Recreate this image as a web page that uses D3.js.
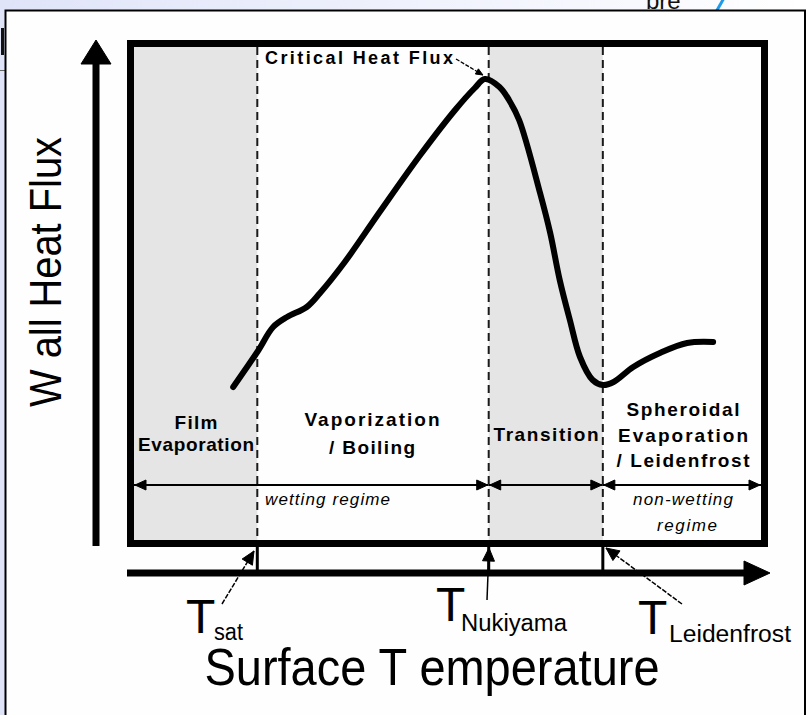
<!DOCTYPE html>
<html>
<head>
<meta charset="utf-8">
<script src="https://cdn.jsdelivr.net/npm/d3@7"></script>
<style>
  html, body { margin: 0; padding: 0; background: #ffffff; }
  svg { display: block; }
  text { font-family: "Liberation Sans", Arial, Helvetica, sans-serif; }
</style>
</head>
<body>
<script>
// Boiling curve: wall heat flux vs. surface temperature (arbitrary units 0..10)
const curveT    = [1.62, 2.01, 2.25, 2.47, 2.78, 2.99, 3.38, 3.93, 4.57, 5.12, 5.43, 5.59, 5.82, 5.97, 6.13, 6.46, 6.62, 6.77, 6.93, 7.09, 7.29, 7.45, 7.62, 7.93, 8.35, 8.78, 9.19];
const curveFlux = [3.13, 3.85, 4.33, 4.53, 4.73, 5.01, 5.63, 6.63, 7.77, 8.67, 9.11, 9.29, 9.13, 8.87, 8.47, 7.01, 6.21, 5.27, 4.47, 3.73, 3.27, 3.17, 3.23, 3.53, 3.81, 4.01, 4.03];

// Characteristic temperatures that split the regimes
const tempNames  = ["sat", "Nukiyama", "Leidenfrost"];
const tempValues = [2.0, 5.65, 7.45];

// Regime labels (one entry per line)
const regimeLines = [
  ["Film", "Evaporation"],
  ["Vaporization", "/ Boiling"],
  ["Transition"],
  ["Spheroidal", "Evaporation", "/ Leidenfrost"]
];
const shadedRegimes = [0, 2];
const wettingLabels = [["wetting regime"], ["non-wetting", "regime"]];

const W = 809, H = 715;
const svg = d3.select("body").append("svg").attr("width", W).attr("height", H);

// slide backdrop
const defs = svg.append("defs");
const grad = defs.append("linearGradient").attr("id", "slideBg").attr("x1", 0).attr("x2", 1).attr("y1", 0).attr("y2", 0);
grad.append("stop").attr("offset", 0).attr("stop-color", "#dfe4f8");
grad.append("stop").attr("offset", 0.75).attr("stop-color", "#f7f8fe");
grad.append("stop").attr("offset", 1).attr("stop-color", "#ffffff");
svg.append("rect").attr("width", W).attr("height", H).attr("fill", "url(#slideBg)");
svg.append("text").attr("x", 646).attr("y", 9).attr("font-size", 24).attr("fill", "#111").text("bre");
svg.append("line").attr("x1", 716).attr("y1", 12).attr("x2", 724).attr("y2", -2)
  .attr("stroke", "#1f9bea").attr("stroke-width", 3);
svg.append("rect").attr("x", 1).attr("y", 28).attr("width", 3).attr("height", 27).attr("fill", "#111");
svg.append("line").attr("x1", 0).attr("x2", 5).attr("y1", 70.5).attr("y2", 70.5).attr("stroke", "#666").attr("stroke-width", 1);

// white panel
svg.append("rect").attr("x", 5.5).attr("y", 10.5).attr("width", 799.5).attr("height", 720)
  .attr("fill", "#fefefe").attr("stroke", "#000").attr("stroke-width", 2);

// scales
const x = d3.scaleLinear().domain([0, 10]).range([130.5, 764.5]);
const y = d3.scaleLinear().domain([0, 10]).range([543.5, 43.5]);
const frameW = 7;
const inL = x(0) + frameW / 2, inR = x(10) - frameW / 2;
const inT = y(10) + frameW / 2, inB = y(0) - frameW / 2;

// shaded regimes
const edges = [0, ...tempValues, 10];
shadedRegimes.forEach(i => {
  svg.append("rect")
    .attr("x", x(edges[i])).attr("y", inT)
    .attr("width", x(edges[i + 1]) - x(edges[i])).attr("height", inB - inT)
    .attr("fill", "#e5e5e5");
});

// dashed boundaries
svg.selectAll(".bound").data(tempValues).enter().append("line")
  .attr("x1", d => x(d)).attr("x2", d => x(d))
  .attr("y1", inT).attr("y2", inB)
  .attr("stroke", "#1a1a1a").attr("stroke-width", 2).attr("stroke-dasharray", "8,5");

// frame
svg.append("rect")
  .attr("x", x(0)).attr("y", y(10)).attr("width", x(10) - x(0)).attr("height", y(0) - y(10))
  .attr("fill", "none").attr("stroke", "#000").attr("stroke-width", frameW);

// boiling curve
const pts = curveT.map((t, i) => [t, curveFlux[i]]);
svg.append("path").datum(pts)
  .attr("d", d3.line().x(d => x(d[0])).y(d => y(d[1])).curve(d3.curveCatmullRom.alpha(0.5)))
  .attr("fill", "none").attr("stroke", "#000").attr("stroke-width", 6)
  .attr("stroke-linecap", "round").attr("stroke-linejoin", "round");

// helper: filled triangle arrowhead with tip at (tx,ty) pointing along angle
function arrowHead(g, tx, ty, angle, len, half) {
  const c = Math.cos(angle), s = Math.sin(angle);
  const bx = tx - c * len, by = ty - s * len;
  const p = [[tx, ty], [bx - s * half, by + c * half], [bx + s * half, by - c * half]];
  g.append("path").attr("d", "M" + p.map(q => q.join(",")).join("L") + "Z").attr("fill", "#000")
    .attr("stroke", "#000").attr("stroke-width", 1).attr("stroke-linejoin", "round");
}

// Critical Heat Flux label and leader
const peakIdx = curveFlux.indexOf(d3.max(curveFlux));
svg.append("text").attr("x", 265).attr("y", 64).attr("font-size", 18).attr("font-weight", "bold")
  .attr("textLength", 188).attr("lengthAdjust", "spacing").text("Critical Heat Flux");
{
  const px = x(curveT[peakIdx]) - 2, py = y(curveFlux[peakIdx]) - 4;
  svg.append("line").attr("x1", 456).attr("y1", 59).attr("x2", px).attr("y2", py)
    .attr("stroke", "#000").attr("stroke-width", 1.3).attr("stroke-dasharray", "4,1.5");
  arrowHead(svg, px, py, Math.atan2(py - 59, px - 456), 7, 3);
}

// regime labels
const regimeLayout = [
  { cx: 196, base: [429, 451], len: [43, 116] },
  { cx: 372, base: [426, 454], len: [135, 86] },
  { cx: 546, base: [441], len: [105] },
  { cx: 683, base: [416, 442, 467], len: [113, 130, 133] }
];
regimeLines.forEach((lines, i) => {
  const L = regimeLayout[i];
  lines.forEach((t, j) => {
    svg.append("text").attr("x", L.cx).attr("y", L.base[j]).attr("text-anchor", "middle")
      .attr("font-size", 19).attr("font-weight", "bold")
      .attr("textLength", L.len[j]).attr("lengthAdjust", "spacing").text(t);
  });
});

// regime range arrows
const rangeY = 485;
const rangeEdges = [inL, x(tempValues[1]), x(tempValues[2]), inR];
for (let i = 0; i < rangeEdges.length - 1; i++) {
  const a = rangeEdges[i], b = rangeEdges[i + 1];
  svg.append("line").attr("x1", a).attr("x2", b).attr("y1", rangeY).attr("y2", rangeY)
    .attr("stroke", "#000").attr("stroke-width", 2);
  arrowHead(svg, a + 1, rangeY, Math.PI, 11, 5);
  arrowHead(svg, b - 1, rangeY, 0, 11, 5);
}

// wetting / non-wetting captions
svg.append("text").attr("x", 265).attr("y", 505).attr("font-size", 17).attr("font-style", "italic")
  .attr("textLength", 125).attr("lengthAdjust", "spacing").text(wettingLabels[0][0]);
svg.append("text").attr("x", 683).attr("y", 505).attr("text-anchor", "middle").attr("font-size", 17)
  .attr("font-style", "italic").attr("textLength", 100).attr("lengthAdjust", "spacing").text(wettingLabels[1][0]);
svg.append("text").attr("x", 687).attr("y", 531).attr("text-anchor", "middle").attr("font-size", 17)
  .attr("font-style", "italic").attr("textLength", 60).attr("lengthAdjust", "spacing").text(wettingLabels[1][1]);

// y axis arrow
const yAxisX = 96;
svg.append("line").attr("x1", yAxisX).attr("x2", yAxisX).attr("y1", 546).attr("y2", 60)
  .attr("stroke", "#000").attr("stroke-width", 7);
arrowHead(svg, yAxisX, 40, -Math.PI / 2, 24, 15);

// x axis arrow
const xAxisY = 573;
svg.append("line").attr("x1", 127).attr("x2", 748).attr("y1", xAxisY).attr("y2", xAxisY)
  .attr("stroke", "#000").attr("stroke-width", 7);
arrowHead(svg, 770, xAxisY, 0, 26, 12);

// short stems from frame to axis at characteristic temperatures
svg.selectAll(".stem").data(tempValues).enter().append("line")
  .attr("x1", d => x(d)).attr("x2", d => x(d))
  .attr("y1", y(0)).attr("y2", xAxisY)
  .attr("stroke", "#000").attr("stroke-width", 3);

// temperature labels with leaders
const tempLayout = [
  { tx: 186, base: 633, sx: 214, sbase: 640, slen: 29, from: [222, 604], to: [254, 551] },
  { tx: 436, base: 621, sx: 461, sbase: 631, slen: 106, from: [487, 600], to: [489, 548] },
  { tx: 638, base: 634, sx: 669, sbase: 642, slen: 122, from: [682, 604], to: [606, 548] }
];
tempNames.forEach((n, i) => {
  const L = tempLayout[i];
  svg.append("text").attr("x", L.tx).attr("y", L.base).attr("font-size", 48).text("T");
  svg.append("text").attr("x", L.sx).attr("y", L.sbase).attr("font-size", 23)
    .attr("textLength", L.slen).attr("lengthAdjust", "spacingAndGlyphs").text(n);
  svg.append("line").attr("x1", L.from[0]).attr("y1", L.from[1]).attr("x2", L.to[0]).attr("y2", L.to[1])
    .attr("stroke", "#000").attr("stroke-width", 1.5).attr("stroke-dasharray", i === 1 ? null : "5,1.5");
  arrowHead(svg, L.to[0], L.to[1], Math.atan2(L.to[1] - L.from[1], L.to[0] - L.from[0]), 13, 6);
});

// axis titles
svg.append("text").attr("x", 432).attr("y", 685).attr("text-anchor", "middle").attr("font-size", 52)
  .attr("textLength", 455).attr("lengthAdjust", "spacingAndGlyphs").text("Surface T emperature");
svg.append("text").attr("transform", "translate(61,272) rotate(-90)").attr("text-anchor", "middle")
  .attr("font-size", 45).attr("textLength", 270).attr("lengthAdjust", "spacingAndGlyphs").text("W all Heat Flux");
</script>
</body>
</html>
